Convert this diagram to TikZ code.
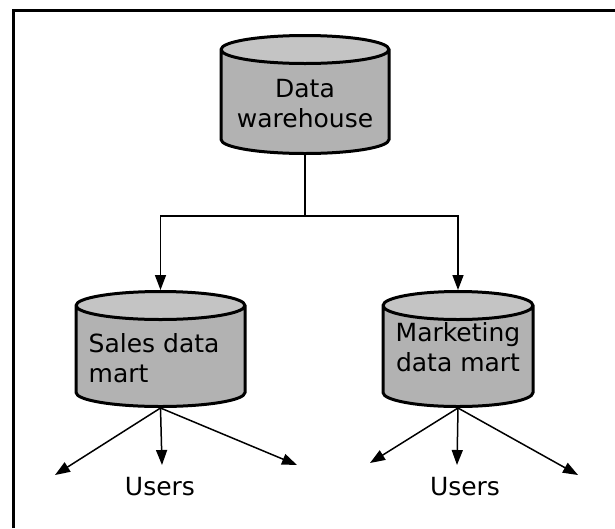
\documentclass[tikz,border=0pt]{standalone}
\usepackage{fontspec}
\setmainfont{DejaVu Sans}
\usetikzlibrary{positioning}
\usetikzlibrary{arrows.meta}
\usetikzlibrary{calc}
\usetikzlibrary{shapes.geometric}

\definecolor{bodygray}{gray}{0.70}
\definecolor{topgray}{gray}{0.77}

\begin{document}
\begin{tikzpicture}[
    x=1pt, y=-1pt,
    store/.style={cylinder, shape border rotate=90, aspect=7, inner sep=2pt, draw=black, line width=3pt,
        cylinder uses custom fill, cylinder body fill=bodygray, cylinder end fill=topgray, anchor=north},
    txt/.style={font=\fontsize{25}{30}\selectfont, inner sep=0pt},
    link/.style={line width=1.5pt, -{Triangle[length=15pt,width=11pt]}},
]
    \useasboundingbox (0,0) rectangle (615,528);
    \draw[line width=3pt] (13,528) -- (13,10) -- (615,10);

    \node[store, minimum width=168pt, minimum height=118pt] (DW) at (305,34) {};
    \node[store, minimum width=169pt, minimum height=115pt] (SDM) at (160.5,290) {};
    \node[store, minimum width=150pt, minimum height=115pt] (MDM) at (458,290) {};

    \node[txt, align=center] (TDW) at ($(DW.north)+(0,70)$) {Data\\warehouse};
    \node[txt, align=left, anchor=west] (TSDM) at ($(SDM.north)+(-72,68)$) {Sales data\\mart};
    \node[txt, align=center] (TMDM) at ($(MDM.north)+(0,57)$) {Marketing\\data mart};

    \coordinate (split) at ($(DW.south)+(0,61)$);
    \draw[link] (DW.south) -- (split) -| (SDM.north);
    \draw[link] (split) -| (MDM.north);

    \coordinate (S1) at (55,475);
    \coordinate (S2) at (162,465);
    \coordinate (S3) at (297,465);
    \coordinate (M1) at (370,463);
    \coordinate (M2) at (457,465);
    \coordinate (M3) at (578,475);

    \draw[link] (SDM.south) -- (S1);
    \draw[link] (SDM.south) -- (S2);
    \draw[link] (SDM.south) -- (S3);
    \draw[link] (MDM.south) -- (M1);
    \draw[link] (MDM.south) -- (M2);
    \draw[link] (MDM.south) -- (M3);

    \node[txt] (US) at (160,487) {Users};
    \node[txt] (UM) at (465,487) {Users};
\end{tikzpicture}
\end{document}
